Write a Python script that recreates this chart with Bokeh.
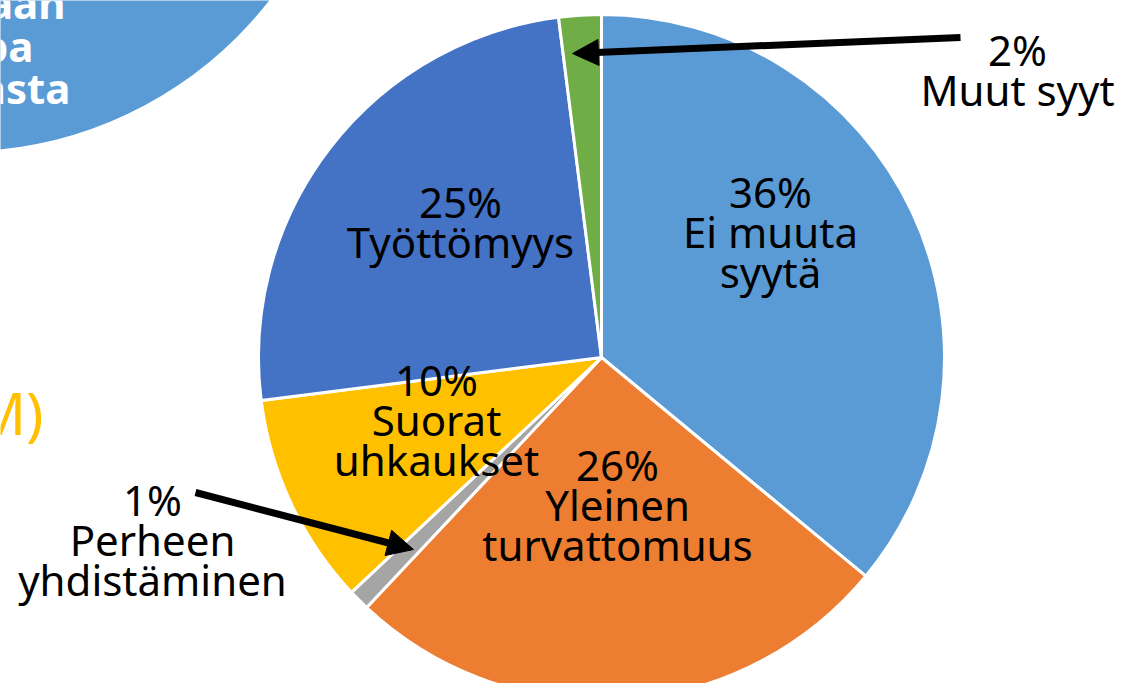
import numpy as np
from bokeh.plotting import figure
from bokeh.models import Range1d, Arrow, NormalHead, ColumnDataSource
from bokeh.core.properties import value
from bokeh.embed import file_html
from bokeh.resources import INLINE

# ---- data ----
categories = ["Ei muuta syytä", "Yleinen turvattomuus", "Perheen yhdistäminen",
              "Suorat uhkaukset", "Työttömyys", "Muut syyt"]
shares = [36, 26, 1, 10, 25, 2]
label_names = ["Ei muuta\nsyytä", "Yleinen\nturvattomuus", "Perheen\nyhdistäminen",
               "Suorat\nuhkaukset", "Työttömyys", "Muut syyt"]
colors = ["#5B9BD5", "#ED7D31", "#A5A5A5", "#FFC000", "#4472C4", "#70AD47"]

# ---- layout (reference pixel frame; y measured downward from top) ----
W, H = 1131, 699
def fy(y):
    return H - y

cx, cy, R = 601, fy(357), 343
# label block anchors (pixel coords in reference frame)
label_xy = [(770, 231), (617, 504), (152, 539), (436, 419), (460, 221), (1017, 69)]
FONT = value("Noto Sans")

p = figure(width=1115, height=683, x_range=Range1d(0, 1115), y_range=Range1d(H - 683, H),
           output_backend="svg", toolbar_location=None, x_axis_type=None,
           y_axis_type=None, min_border=0)
p.grid.visible = False
p.outline_line_color = None
p.background_fill_color = "white"

# partial slide decorations on the left
p.circle(x=[-40], y=[fy(-240)], radius=391, fill_color="#5B9BD5", line_color=None)
p.text(x=[65, 33, 70], y=[fy(2), fy(45), fy(87)], text=["aan", "pa", "asta"],
       text_align="right", text_baseline="alphabetic", text_color="white",
       text_font=FONT, text_font_style="bold", text_font_size="42px")
p.text(x=[43], y=[fy(412)], text=["M)"], text_align="right", text_baseline="alphabetic",
       text_color="#FFC000", text_font=FONT, text_font_size="58px")

# pie
frac = np.array(shares, dtype=float) / sum(shares)
cum = np.concatenate([[0], np.cumsum(frac)])
start = np.pi / 2 - 2 * np.pi * cum[:-1]
end = np.pi / 2 - 2 * np.pi * cum[1:]
src = ColumnDataSource(dict(start=start, end=end, color=colors, cat=categories))
p.wedge(x=cx, y=cy, radius=R, start_angle="start", end_angle="end", direction="clock",
        fill_color="color", line_color="white", line_width=3, source=src)

# labels
texts = [f"{s}%\n{n}" for s, n in zip(shares, label_names)]
p.text(x=[a for a, b in label_xy], y=[fy(b) for a, b in label_xy], text=texts,
       text_align="center", text_baseline="middle", text_color="black",
       text_font=FONT, text_font_size="42px", text_line_height=0.71)

# arrows
p.add_layout(Arrow(end=NormalHead(size=26, fill_color="black", line_color="black"),
                   x_start=960, y_start=fy(37), x_end=572, y_end=fy(53),
                   line_width=7, line_color="black"))
p.add_layout(Arrow(end=NormalHead(size=26, fill_color="black", line_color="black"),
                   x_start=195, y_start=fy(492), x_end=413, y_end=fy(549),
                   line_width=7, line_color="black"))

open("out.html", "w").write(file_html(p, INLINE))
